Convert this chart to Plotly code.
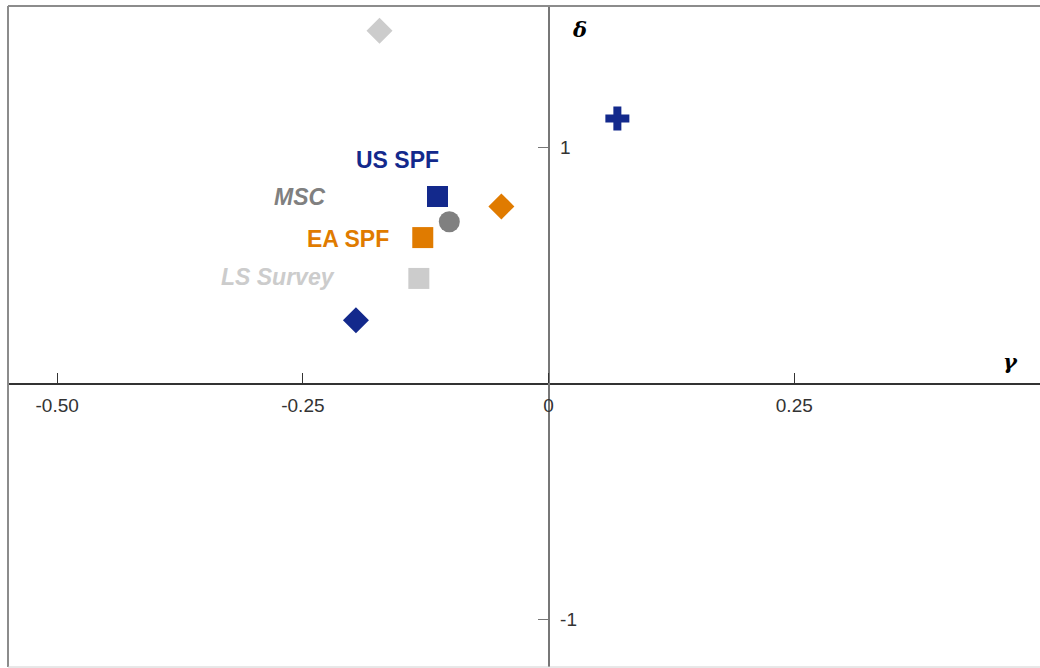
import plotly.graph_objects as go

# Survey estimates of (gamma, delta)
NAVY = "#13298c"
ORANGE = "#e07b00"
GRAY = "#808080"
LIGHT = "#cccccc"

series_names = ["US SPF", "US SPF (alt.)", "US SPF (model)", "EA SPF", "EA SPF (alt.)",
                "MSC", "LS Survey", "LS Survey (alt.)"]
gamma = [-0.113, -0.196, 0.070, -0.128, -0.048, -0.101, -0.132, -0.172]
delta = [0.793, 0.269, 1.123, 0.619, 0.751, 0.686, 0.446, 1.495]
colors = [NAVY, NAVY, NAVY, ORANGE, ORANGE, GRAY, LIGHT, LIGHT]
symbols = ["square", "diamond", "cross", "square", "diamond", "circle", "square", "diamond"]
sizes = [21, 20, 20, 21, 20, 21, 21, 20]

x_ticks = [-0.5, -0.25, 0, 0.25]
x_tick_labels = ["-0.50", "-0.25", "0", "0.25"]
y_ticks = [-1, 1]
y_tick_labels = ["-1", "1"]

X_RANGE = [-0.55, 0.5]
Y_RANGE = [-1.2, 1.6]

fig = go.Figure()
for name, gx, dy, c, s, sz in zip(series_names, gamma, delta, colors, symbols, sizes):
    fig.add_trace(go.Scatter(
        x=[gx], y=[dy], mode="markers", name=name,
        marker=dict(symbol=s, size=sz, color=c, line=dict(width=0)),
        showlegend=False,
    ))

label_font = "Liberation Sans, Arial, Helvetica, sans-serif"
labels = [
    ("US SPF", -0.1535, 0.949, NAVY, False),
    ("MSC", -0.253, 0.789, GRAY, True),
    ("EA SPF", -0.204, 0.611, ORANGE, False),
    ("LS Survey", -0.275, 0.450, LIGHT, True),
]
for text, lx, ly, c, ital in labels:
    t = f"<b><i>{text}</i></b>" if ital else f"<b>{text}</b>"
    fig.add_annotation(x=lx, y=ly, text=t, showarrow=False,
                       font=dict(family=label_font, size=23, color=c),
                       xanchor="center", yanchor="middle")

# axis symbols
fig.add_annotation(x=0.022, y=1.5, text="<b><i>δ</i></b>", showarrow=False,
                   xanchor="left", yanchor="middle",
                   font=dict(family="DejaVu Serif, Liberation Serif, serif", size=21, color="black"))
fig.add_annotation(x=0.470, y=0.095, text="<b><i>γ</i></b>", showarrow=False,
                   xanchor="center", yanchor="middle",
                   font=dict(family="DejaVu Serif, Liberation Serif, serif", size=21, color="black"))

x_zero_frac = (0 - Y_RANGE[0]) / (Y_RANGE[1] - Y_RANGE[0])
y_zero_frac = (0 - X_RANGE[0]) / (X_RANGE[1] - X_RANGE[0])

tick_font = dict(family=label_font, size=19, color="#333333")

fig.update_layout(
    width=1040, height=668,
    margin=dict(l=8, r=0, t=6, b=1),
    paper_bgcolor="white", plot_bgcolor="white",
    xaxis=dict(range=X_RANGE, anchor="free", position=x_zero_frac, side="bottom",
               showline=True, linecolor="#333333", linewidth=1.5,
               ticks="inside", ticklen=10, tickcolor="#333333", tickwidth=1,
               tickvals=x_ticks, ticktext=x_tick_labels, tickfont=tick_font,
               ticklabelstandoff=5,
               showgrid=False, zeroline=False),
    yaxis=dict(range=Y_RANGE, anchor="free", position=y_zero_frac, side="right",
               showline=True, linecolor="#777777", linewidth=1.5,
               ticks="inside", ticklen=10, tickcolor="#777777", tickwidth=1,
               tickvals=y_ticks, ticktext=y_tick_labels, tickfont=tick_font,
               ticklabelstandoff=7,
               showgrid=False, zeroline=False),
    shapes=[
        dict(type="line", xref="paper", yref="paper", x0=0, x1=1, y0=1, y1=1,
             line=dict(color="#8c8c8c", width=2)),
        dict(type="line", xref="paper", yref="paper", x0=0, x1=0, y0=0, y1=1,
             line=dict(color="#8c8c8c", width=2)),
        dict(type="line", xref="paper", yref="paper", x0=0, x1=1, y0=0, y1=0,
             line=dict(color="#d0d0d0", width=1)),
    ],
)

fig.write_html("out.html")
